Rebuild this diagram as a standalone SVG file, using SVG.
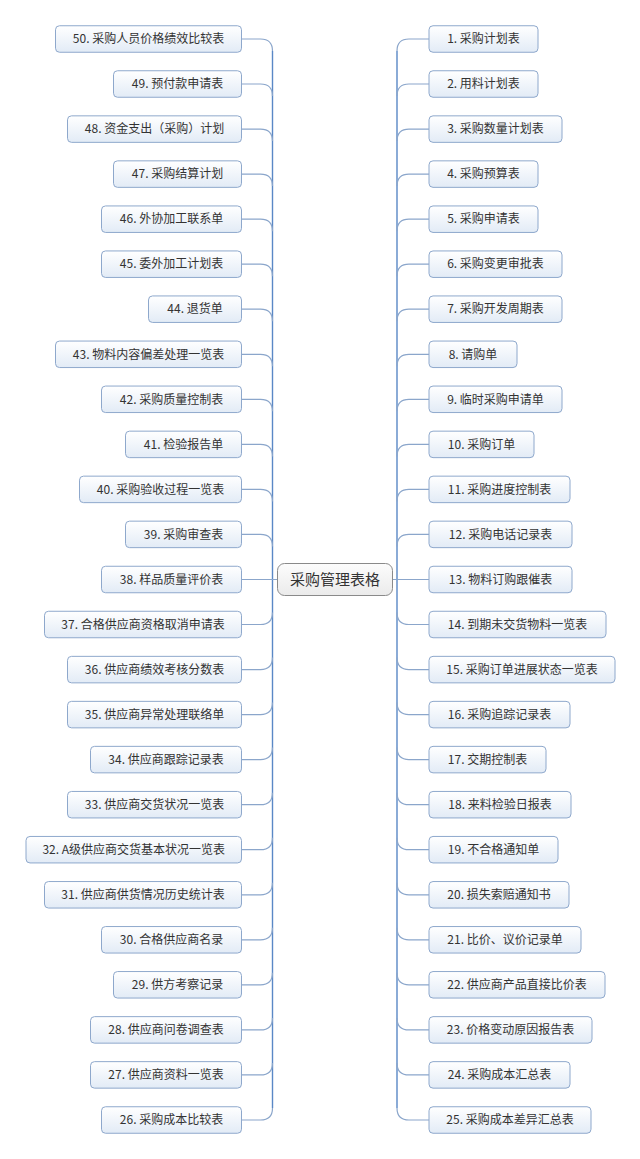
<svg xmlns="http://www.w3.org/2000/svg" width="640" height="1159" viewBox="0 0 640 1159">
<defs>
<linearGradient id="gb" x1="0" y1="0" x2="0" y2="1"><stop offset="0" stop-color="#ffffff"/><stop offset="1" stop-color="#e2ebf6"/></linearGradient>
<linearGradient id="gc" x1="0" y1="0" x2="0" y2="1"><stop offset="0" stop-color="#fcfcfc"/><stop offset="1" stop-color="#ebebeb"/></linearGradient>
</defs>
<style>
.n rect{fill:url(#gb);stroke:#8ea8cc;stroke-width:1}
.n text{font-family:"Noto Sans CJK SC","Microsoft YaHei",sans-serif;font-size:12px;fill:#333;text-anchor:middle}
.c rect{fill:url(#gc);stroke:#8a8a8a;stroke-width:1}
.c text{font-family:"Noto Sans CJK SC",sans-serif;font-size:15px;fill:#333;text-anchor:middle}
.b{fill:none;stroke:#8ba6cb;stroke-width:1.2}
.t{fill:none;stroke:#5a88c6;stroke-width:1.4}
</style>
<rect width="640" height="1159" fill="#ffffff"/>
<g id="connectors">
<path class="t" d="M272.5 51V1108M397 51V1108"/>
<path class="b" d="M277.5 579.5H241.5M392.5 579.5H429"/>
<path class="b" d="M272.5 51Q272.5 39 260.5 39H241.5M272.5 96Q272.5 84 260.5 84H241.5M272.5 141.1Q272.5 129.1 260.5 129.1H241.5M272.5 186.1Q272.5 174.1 260.5 174.1H241.5M272.5 231.2Q272.5 219.2 260.5 219.2H241.5M272.5 276.2Q272.5 264.2 260.5 264.2H241.5M272.5 321.2Q272.5 309.2 260.5 309.2H241.5M272.5 366.3Q272.5 354.3 260.5 354.3H241.5M272.5 411.3Q272.5 399.3 260.5 399.3H241.5M272.5 456.4Q272.5 444.4 260.5 444.4H241.5M272.5 501.4Q272.5 489.4 260.5 489.4H241.5M272.5 546.4Q272.5 534.4 260.5 534.4H241.5"/>
<path class="b" d="M272.5 612.5Q272.5 624.5 260.5 624.5H241.5M272.5 657.6Q272.5 669.6 260.5 669.6H241.5M272.5 702.6Q272.5 714.6 260.5 714.6H241.5M272.5 747.6Q272.5 759.6 260.5 759.6H241.5M272.5 792.7Q272.5 804.7 260.5 804.7H241.5M272.5 837.7Q272.5 849.7 260.5 849.7H241.5M272.5 882.8Q272.5 894.8 260.5 894.8H241.5M272.5 927.8Q272.5 939.8 260.5 939.8H241.5M272.5 972.8Q272.5 984.8 260.5 984.8H241.5M272.5 1017.9Q272.5 1029.9 260.5 1029.9H241.5M272.5 1062.9Q272.5 1074.9 260.5 1074.9H241.5M272.5 1108Q272.5 1120 260.5 1120H241.5"/>
<path class="b" d="M397 51Q397 39 409 39H429M397 96Q397 84 409 84H429M397 141.1Q397 129.1 409 129.1H429M397 186.1Q397 174.1 409 174.1H429M397 231.2Q397 219.2 409 219.2H429M397 276.2Q397 264.2 409 264.2H429M397 321.2Q397 309.2 409 309.2H429M397 366.3Q397 354.3 409 354.3H429M397 411.3Q397 399.3 409 399.3H429M397 456.4Q397 444.4 409 444.4H429M397 501.4Q397 489.4 409 489.4H429M397 546.4Q397 534.4 409 534.4H429"/>
<path class="b" d="M397 612.5Q397 624.5 409 624.5H429M397 657.6Q397 669.6 409 669.6H429M397 702.6Q397 714.6 409 714.6H429M397 747.6Q397 759.6 409 759.6H429M397 792.7Q397 804.7 409 804.7H429M397 837.7Q397 849.7 409 849.7H429M397 882.8Q397 894.8 409 894.8H429M397 927.8Q397 939.8 409 939.8H429M397 972.8Q397 984.8 409 984.8H429M397 1017.9Q397 1029.9 409 1029.9H429M397 1062.9Q397 1074.9 409 1074.9H429M397 1108Q397 1120 409 1120H429"/>
</g>
<g id="center" class="c"><rect x="277.5" y="563.5" width="115" height="32" rx="7"/><text x="335" y="584.8">采购管理表格</text></g>
<g id="n1" class="n"><rect x="429" y="25.75" width="109" height="26.5" rx="4"/><text x="483.5" y="43.2">1. 采购计划表</text></g>
<g id="n2" class="n"><rect x="429" y="70.75" width="109" height="26.5" rx="4"/><text x="483.5" y="88.2">2. 用料计划表</text></g>
<g id="n3" class="n"><rect x="429" y="115.85" width="133" height="26.5" rx="4"/><text x="495.5" y="133.3">3. 采购数量计划表</text></g>
<g id="n4" class="n"><rect x="429" y="160.85" width="109" height="26.5" rx="4"/><text x="483.5" y="178.3">4. 采购预算表</text></g>
<g id="n5" class="n"><rect x="429" y="205.95" width="109" height="26.5" rx="4"/><text x="483.5" y="223.4">5. 采购申请表</text></g>
<g id="n6" class="n"><rect x="429" y="250.95" width="133" height="26.5" rx="4"/><text x="495.5" y="268.4">6. 采购变更审批表</text></g>
<g id="n7" class="n"><rect x="429" y="295.95" width="133" height="26.5" rx="4"/><text x="495.5" y="313.4">7. 采购开发周期表</text></g>
<g id="n8" class="n"><rect x="429" y="341.05" width="88" height="26.5" rx="4"/><text x="473" y="358.5">8. 请购单</text></g>
<g id="n9" class="n"><rect x="429" y="386.05" width="133" height="26.5" rx="4"/><text x="495.5" y="403.5">9. 临时采购申请单</text></g>
<g id="n10" class="n"><rect x="429" y="431.15" width="105" height="26.5" rx="4"/><text x="481.5" y="448.6">10. 采购订单</text></g>
<g id="n11" class="n"><rect x="429" y="476.15" width="141" height="26.5" rx="4"/><text x="499.5" y="493.6">11. 采购进度控制表</text></g>
<g id="n12" class="n"><rect x="429" y="521.15" width="143" height="26.5" rx="4"/><text x="500.5" y="538.6">12. 采购电话记录表</text></g>
<g id="n13" class="n"><rect x="429" y="566.25" width="143" height="26.5" rx="4"/><text x="500.5" y="583.7">13. 物料订购跟催表</text></g>
<g id="n14" class="n"><rect x="429" y="611.25" width="177" height="26.5" rx="4"/><text x="517.5" y="628.7">14. 到期未交货物料一览表</text></g>
<g id="n15" class="n"><rect x="429" y="656.35" width="186" height="26.5" rx="4"/><text x="522" y="673.8">15. 采购订单进展状态一览表</text></g>
<g id="n16" class="n"><rect x="429" y="701.35" width="141" height="26.5" rx="4"/><text x="499.5" y="718.8">16. 采购追踪记录表</text></g>
<g id="n17" class="n"><rect x="429" y="746.35" width="117" height="26.5" rx="4"/><text x="487.5" y="763.8">17. 交期控制表</text></g>
<g id="n18" class="n"><rect x="429" y="791.45" width="142" height="26.5" rx="4"/><text x="500" y="808.9">18. 来料检验日报表</text></g>
<g id="n19" class="n"><rect x="429" y="836.45" width="129" height="26.5" rx="4"/><text x="493.5" y="853.9">19. 不合格通知单</text></g>
<g id="n20" class="n"><rect x="429" y="881.55" width="140" height="26.5" rx="4"/><text x="499" y="899">20. 损失索赔通知书</text></g>
<g id="n21" class="n"><rect x="429" y="926.55" width="152" height="26.5" rx="4"/><text x="505" y="944">21. 比价、议价记录单</text></g>
<g id="n22" class="n"><rect x="429" y="971.55" width="176" height="26.5" rx="4"/><text x="517" y="989">22. 供应商产品直接比价表</text></g>
<g id="n23" class="n"><rect x="429" y="1016.65" width="163" height="26.5" rx="4"/><text x="510.5" y="1034.1">23. 价格变动原因报告表</text></g>
<g id="n24" class="n"><rect x="429" y="1061.65" width="141" height="26.5" rx="4"/><text x="499.5" y="1079.1">24. 采购成本汇总表</text></g>
<g id="n25" class="n"><rect x="429" y="1106.75" width="162" height="26.5" rx="4"/><text x="510" y="1124.2">25. 采购成本差异汇总表</text></g>
<g id="n50" class="n"><rect x="55.5" y="25.75" width="186" height="26.5" rx="4"/><text x="148.5" y="43.2">50. 采购人员价格绩效比较表</text></g>
<g id="n49" class="n"><rect x="113.5" y="70.75" width="128" height="26.5" rx="4"/><text x="177.5" y="88.2">49. 预付款申请表</text></g>
<g id="n48" class="n"><rect x="67.5" y="115.85" width="174" height="26.5" rx="4"/><text x="154.5" y="133.3">48. 资金支出（采购）计划</text></g>
<g id="n47" class="n"><rect x="113.5" y="160.85" width="128" height="26.5" rx="4"/><text x="177.5" y="178.3">47. 采购结算计划</text></g>
<g id="n46" class="n"><rect x="101.5" y="205.95" width="140" height="26.5" rx="4"/><text x="171.5" y="223.4">46. 外协加工联系单</text></g>
<g id="n45" class="n"><rect x="101.5" y="250.95" width="140" height="26.5" rx="4"/><text x="171.5" y="268.4">45. 委外加工计划表</text></g>
<g id="n44" class="n"><rect x="148.5" y="295.95" width="93" height="26.5" rx="4"/><text x="195" y="313.4">44. 退货单</text></g>
<g id="n43" class="n"><rect x="55.5" y="341.05" width="186" height="26.5" rx="4"/><text x="148.5" y="358.5">43. 物料内容偏差处理一览表</text></g>
<g id="n42" class="n"><rect x="101.5" y="386.05" width="140" height="26.5" rx="4"/><text x="171.5" y="403.5">42. 采购质量控制表</text></g>
<g id="n41" class="n"><rect x="125.5" y="431.15" width="116" height="26.5" rx="4"/><text x="183.5" y="448.6">41. 检验报告单</text></g>
<g id="n40" class="n"><rect x="79.5" y="476.15" width="162" height="26.5" rx="4"/><text x="160.5" y="493.6">40. 采购验收过程一览表</text></g>
<g id="n39" class="n"><rect x="125.5" y="521.15" width="116" height="26.5" rx="4"/><text x="183.5" y="538.6">39. 采购审查表</text></g>
<g id="n38" class="n"><rect x="101.5" y="566.25" width="140" height="26.5" rx="4"/><text x="171.5" y="583.7">38. 样品质量评价表</text></g>
<g id="n37" class="n"><rect x="44.5" y="611.25" width="197" height="26.5" rx="4"/><text x="143" y="628.7">37. 合格供应商资格取消申请表</text></g>
<g id="n36" class="n"><rect x="67.5" y="656.35" width="174" height="26.5" rx="4"/><text x="154.5" y="673.8">36. 供应商绩效考核分数表</text></g>
<g id="n35" class="n"><rect x="67.5" y="701.35" width="174" height="26.5" rx="4"/><text x="154.5" y="718.8">35. 供应商异常处理联络单</text></g>
<g id="n34" class="n"><rect x="90.5" y="746.35" width="151" height="26.5" rx="4"/><text x="166" y="763.8">34. 供应商跟踪记录表</text></g>
<g id="n33" class="n"><rect x="67.5" y="791.45" width="174" height="26.5" rx="4"/><text x="154.5" y="808.9">33. 供应商交货状况一览表</text></g>
<g id="n32" class="n"><rect x="26" y="836.45" width="215.5" height="26.5" rx="4"/><text x="133.75" y="853.9">32. A级供应商交货基本状况一览表</text></g>
<g id="n31" class="n"><rect x="44.5" y="881.55" width="197" height="26.5" rx="4"/><text x="143" y="899">31. 供应商供货情况历史统计表</text></g>
<g id="n30" class="n"><rect x="101.5" y="926.55" width="140" height="26.5" rx="4"/><text x="171.5" y="944">30. 合格供应商名录</text></g>
<g id="n29" class="n"><rect x="113.5" y="971.55" width="128" height="26.5" rx="4"/><text x="177.5" y="989">29. 供方考察记录</text></g>
<g id="n28" class="n"><rect x="90.5" y="1016.65" width="151" height="26.5" rx="4"/><text x="166" y="1034.1">28. 供应商问卷调查表</text></g>
<g id="n27" class="n"><rect x="90.5" y="1061.65" width="151" height="26.5" rx="4"/><text x="166" y="1079.1">27. 供应商资料一览表</text></g>
<g id="n26" class="n"><rect x="101.5" y="1106.75" width="140" height="26.5" rx="4"/><text x="171.5" y="1124.2">26. 采购成本比较表</text></g>
</svg>
